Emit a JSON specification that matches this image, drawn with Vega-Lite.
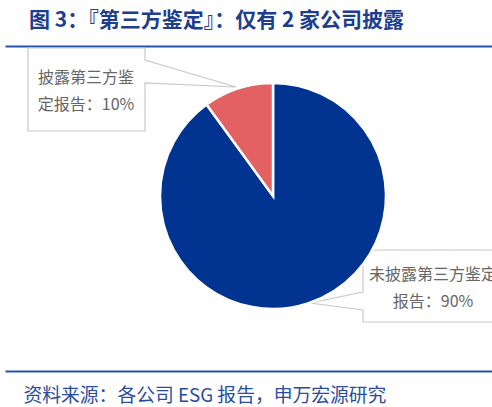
{
  "$schema": "https://vega.github.io/schema/vega-lite/v6.json",
  "width": 487,
  "height": 325,
  "autosize": {"type": "none"},
  "padding": {"left": 5, "top": 46, "right": 0, "bottom": 36},
  "background": "white",
  "title": {
    "text": "图 3：『第三方鉴定』：仅有 2 家公司披露",
    "anchor": "start",
    "dx": 24,
    "offset": 15,
    "font": "Noto Sans CJK SC",
    "fontSize": 21,
    "fontWeight": "bold",
    "color": "#1D3D8F"
  },
  "data": {
    "values": [
      {"类别": "未披露第三方鉴定报告", "占比": 90, "标签": "未披露第三方鉴定\n报告：90%"},
      {"类别": "披露第三方鉴定报告", "占比": 10, "标签": "披露第三方鉴\n定报告：10%"}
    ]
  },
  "layer": [
    {
      "description": "top rule (axis domain)",
      "mark": {"type": "point", "opacity": 0},
      "encoding": {
        "x": {
          "field": "占比", "type": "quantitative",
          "axis": {"orient": "top", "labels": false, "ticks": false, "grid": false, "title": null,
                   "domainColor": "#2452A6", "domainWidth": 2}
        }
      }
    },
    {
      "description": "bottom rule + source",
      "mark": {"type": "point", "opacity": 0},
      "encoding": {
        "x": {
          "field": "占比", "type": "quantitative",
          "axis": {"orient": "bottom", "labels": false, "ticks": false, "grid": false,
                   "domainColor": "#2452A6", "domainWidth": 2,
                   "title": "资料来源：各公司 ESG 报告，申万宏源研究",
                   "titleX": 18, "titleAlign": "left", "titleBaseline": "top", "titlePadding": 15,
                   "titleFont": "Noto Sans CJK SC", "titleFontSize": 18.8, "titleFontWeight": "normal",
                   "titleColor": "#2A4C9C"}
        }
      }
    },
    {
      "description": "callout boxes",
      "mark": {"type": "point", "filled": true, "fill": "white", "stroke": "#C8C8C8", "strokeWidth": 1.2,
               "opacity": 1, "size": 4,
               "shape": "M-220.5,-160.5 L-103.5,-160.5 L-103.5,-148.5 L-12.5,-121.5 L-103.5,-125.5 L-103.5,-77.5 L-220.5,-77.5 Z M114.5,41.5 L271.5,41.5 L271.5,113.5 L114.5,113.5 L114.5,101.5 L61.5,94.5 L114.5,83.5 Z"},
      "transform": [{"filter": "datum['占比'] === 90"}],
      "encoding": {}
    },
    {
      "description": "pie",
      "mark": {"type": "arc", "outerRadius": 113, "stroke": "white", "strokeWidth": 2.5,
               "xOffset": 24.5, "yOffset": -12.5},
      "encoding": {
        "theta": {"field": "占比", "type": "quantitative", "stack": true},
        "order": {"field": "占比", "sort": "descending"},
        "color": {
          "field": "类别", "type": "nominal",
          "scale": {"domain": ["未披露第三方鉴定报告", "披露第三方鉴定报告"], "range": ["#013490", "#E46163"]},
          "legend": null
        }
      }
    },
    {
      "description": "label 10%",
      "transform": [{"filter": "datum['占比'] === 10"}],
      "mark": {"type": "text", "lineBreak": "\n", "lineHeight": 26.5, "align": "center", "baseline": "middle",
               "dx": -162.5, "dy": -130.5, "font": "Noto Sans CJK SC", "fontSize": 16, "color": "#666666"},
      "encoding": {"text": {"field": "标签"}}
    },
    {
      "description": "label 90%",
      "transform": [{"filter": "datum['占比'] === 90"}],
      "mark": {"type": "text", "lineBreak": "\n", "lineHeight": 27, "align": "center", "baseline": "middle",
               "dx": 184.5, "dy": 66.5, "font": "Noto Sans CJK SC", "fontSize": 16, "color": "#666666"},
      "encoding": {"text": {"field": "标签"}}
    }
  ],
  "resolve": {"scale": {"x": "independent"}, "axis": {"x": "independent"}},
  "config": {"view": {"stroke": null}}
}
